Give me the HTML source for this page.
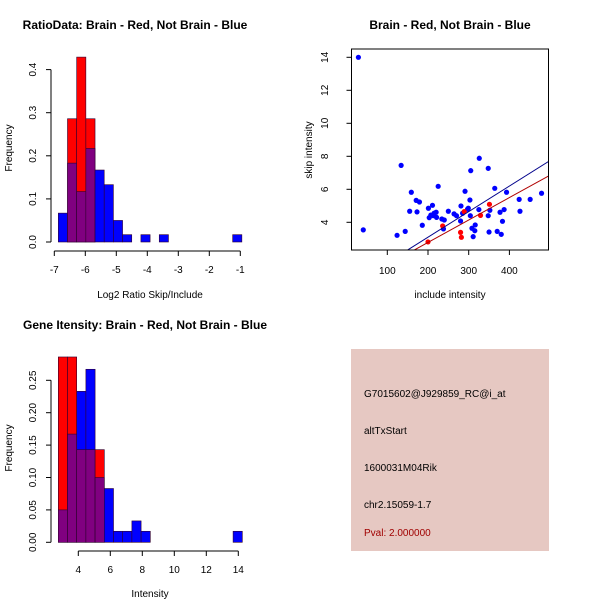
<!DOCTYPE html>
<html><head><meta charset="utf-8"><style>
body{margin:0;background:#fff}
svg{display:block;font-family:"Liberation Sans",sans-serif}
</style></head><body>
<svg id="c" width="600" height="600" xmlns="http://www.w3.org/2000/svg">
<rect width="600" height="600" fill="#fff"/>
<text x="135" y="29" font-size="12" font-weight="bold" text-anchor="middle">RatioData: Brain - Red, Not Brain - Blue</text>
<text x="450" y="29" font-size="12" font-weight="bold" text-anchor="middle">Brain - Red, Not Brain - Blue</text>
<text x="145" y="329" font-size="12" font-weight="bold" text-anchor="middle">Gene Itensity: Brain - Red, Not Brain - Blue</text>
<text x="150" y="298" font-size="10" text-anchor="middle">Log2 Ratio Skip/Include</text>
<text x="150" y="597" font-size="10" text-anchor="middle">Intensity</text>
<text x="450" y="298" font-size="10" text-anchor="middle">include intensity</text>
<text transform="translate(12,148) rotate(-90)" font-size="10" text-anchor="middle">Frequency</text>
<text transform="translate(12,448) rotate(-90)" font-size="10" text-anchor="middle">Frequency</text>
<text transform="translate(312,150) rotate(-90)" font-size="10" text-anchor="middle">skip intensity</text>
<g>
<rect x="351" y="349" width="198" height="202" fill="#e6c8c2"/>
<text x="364" y="397" font-size="10">G7015602@J929859_RC@i_at</text>
<text x="364" y="434" font-size="10">altTxStart</text>
<text x="364" y="471" font-size="10">1600031M04Rik</text>
<text x="364" y="508" font-size="10">chr2.15059-1.7</text>
<text x="364" y="536" font-size="10" fill="#a00000">Pval: 2.000000</text>
</g>
</svg>
<script>
// ---- Ratio histogram data ----
const ratioBinStart = -6.87;
const ratioBinWidth = 0.296;
const ratioBlue = [0.067,0.183,0.117,0.217,0.167,0.133,0.05,0.017,0,0.017,0,0.017,0,0,0,0,0,0,0,0.017];
const ratioRed  = [0,0.286,0.429,0.286,0,0,0,0,0,0,0,0,0,0,0,0,0,0,0,0];
const ratioXTicks = [-7,-6,-5,-4,-3,-2,-1];
const ratioYTicks = [0,0.1,0.2,0.3,0.4];
const ratioYLabels = ["0.0","0.1","0.2","0.3","0.4"];
// ---- Intensity histogram data ----
const intBinStart = 2.75;
const intBinWidth = 0.575;
const intBlue = [0.05,0.167,0.233,0.267,0.1,0.083,0.017,0.017,0.033,0.017,0,0,0,0,0,0,0,0,0,0.017];
const intRed  = [0.286,0.286,0.143,0.143,0.143,0,0,0,0,0,0,0,0,0,0,0,0,0,0,0];
const intXTicks = [4,6,8,10,12,14];
const intYTicks = [0,0.05,0.1,0.15,0.2,0.25];
const intYLabels = ["0.00","0.05","0.10","0.15","0.20","0.25"];
// ---- Scatter data ----
const blueX = [29,41,134,124,144,159,173,171,179,155,186,201,203,211,207,213,215,220,221,225,234,238,240,250,264,270,280,281,285,291,297,299,303,304,305,308,315,316,311,325,326,348,348,350,352,364,370,377,380,383,387,393,424,426,451,479];
const blueY = [14.0,3.54,7.45,3.21,3.45,5.82,4.63,5.33,5.23,4.67,3.82,4.85,4.28,5.03,4.44,4.40,4.55,4.61,4.30,6.18,4.20,3.60,4.14,4.67,4.51,4.40,4.08,4.99,4.55,5.88,4.79,4.85,5.35,4.40,7.13,3.64,3.49,3.84,3.13,4.77,7.88,7.27,4.40,3.41,4.73,6.06,3.45,4.61,3.27,4.06,4.77,5.82,5.39,4.67,5.39,5.76];
const redX = [200,236,280,282,289,329,351];
const redY = [2.81,3.78,3.39,3.09,4.65,4.42,5.09];
const blueFit = [0.0, 0.01549];
const redFit = [0.06, 0.0136];
const scXTicks = [100,200,300,400];
const scYTicks = [4,6,8,10,12,14];

const svg = document.getElementById('c');
const NS = 'http://www.w3.org/2000/svg';
function mk(tag, at){const e=document.createElementNS(NS,tag);for(const k in at)e.setAttribute(k,at[k]);svg.appendChild(e);return e;}

function hist(o){
  const sx=v=>o.x0+(v-o.xv0)*o.xs, sy=v=>o.y0-v*o.ys;
  for(let i=0;i<o.blue.length;i++){
    const a=o.bs+i*o.bw, b=a+o.bw, bl=o.blue[i], rd=o.red[i];
    const mx=Math.max(bl,rd), mn=Math.min(bl,rd);
    if(mx>0){
      const r=mk('rect',{x:sx(a),y:sy(mx),width:sx(b)-sx(a),height:sy(0)-sy(mx),fill:rd>bl?'#ff0000':'#0000ff',stroke:'#300030','stroke-width':0.6});
      
      
    }
    if(mn>0){
      const r=mk('rect',{x:sx(a),y:sy(mn),width:sx(b)-sx(a),height:sy(0)-sy(mn),fill:'#800080',stroke:'#300030','stroke-width':0.6});
      
      
    }
  }
  const ax=o.xt; const ay=o.axY;
  const l=mk('line',{x1:sx(ax[0]),x2:sx(ax[ax.length-1]),y1:ay,y2:ay,stroke:'#000'});
  
  
  ax.forEach(t=>{
    mk('line',{x1:sx(t),x2:sx(t),y1:ay,y2:ay+5,stroke:'#000'});
    const tx=mk('text',{x:sx(t),y:ay+22,'font-size':10,'text-anchor':'middle'});tx.textContent=t;
    
    
  });
  const yl=mk('line',{x1:o.axX,x2:o.axX,y1:sy(o.yt[0]),y2:sy(o.yt[o.yt.length-1]),stroke:'#000'});
  
  
  o.yt.forEach((t,i)=>{
    mk('line',{x1:o.axX-5,x2:o.axX,y1:sy(t),y2:sy(t),stroke:'#000'});
    const tx=mk('text',{transform:`translate(${o.axX-15},${sy(t)}) rotate(-90)`,'font-size':10,'text-anchor':'middle'});tx.textContent=o.yl[i];
    
    
  });
}
hist({name:'ratio',blue:ratioBlue,red:ratioRed,bs:ratioBinStart,bw:ratioBinWidth,x0:54.3,xv0:-7,xs:31,y0:242,ys:431,xt:ratioXTicks,yt:ratioYTicks,yl:ratioYLabels,axY:251,axX:51});
hist({name:'intensity',blue:intBlue,red:intRed,bs:intBinStart,bw:intBinWidth,x0:78.3,xv0:4,xs:16,y0:542.3,ys:648,xt:intXTicks,yt:intYTicks,yl:intYLabels,axY:551,axX:51});

// scatter
const scx=v=>387.3+(v-100)*0.407, scy=v=>222.3-(v-4)*16.5;
const box=mk('rect',{x:351.5,y:49,width:197,height:201,fill:'none',stroke:'#000'});


scXTicks.forEach(t=>{
  mk('line',{x1:scx(t),x2:scx(t),y1:250,y2:255,stroke:'#000'});
  const tx=mk('text',{x:scx(t),y:274,'font-size':10,'text-anchor':'middle'});tx.textContent=t;
  
  
});
scYTicks.forEach(t=>{
  mk('line',{x1:346.5,x2:351.5,y1:scy(t),y2:scy(t),stroke:'#000'});
  const tx=mk('text',{transform:`translate(328,${scy(t)}) rotate(-90)`,'font-size':10,'text-anchor':'middle'});tx.textContent=t;
  
  
});
const clip=mk('clipPath',{id:'cl'});
const cr=document.createElementNS(NS,'rect');cr.setAttribute('x',352);cr.setAttribute('y',49.5);cr.setAttribute('width',196);cr.setAttribute('height',200);clip.appendChild(cr);
function fit(f,col,name){
  const x1=0,x2=600;
  const l=mk('line',{x1:scx(x1),y1:scy(f[0]+f[1]*x1),x2:scx(x2),y2:scy(f[0]+f[1]*x2),stroke:col,'stroke-width':1,'clip-path':'url(#cl)'});
  
  
}
blueX.forEach((x,i)=>{
  const c=mk('circle',{cx:scx(x),cy:scy(blueY[i]),r:2.6,fill:'#0000ff','clip-path':'url(#cl)'});
  
  
});
redX.forEach((x,i)=>{
  const c=mk('circle',{cx:scx(x),cy:scy(redY[i]),r:2.6,fill:'#ff0000','clip-path':'url(#cl)'});
  
  
});
fit(blueFit,'#00008b','blue-fit-line');
fit(redFit,'#b00000','red-fit-line');
</script>
</body></html>
